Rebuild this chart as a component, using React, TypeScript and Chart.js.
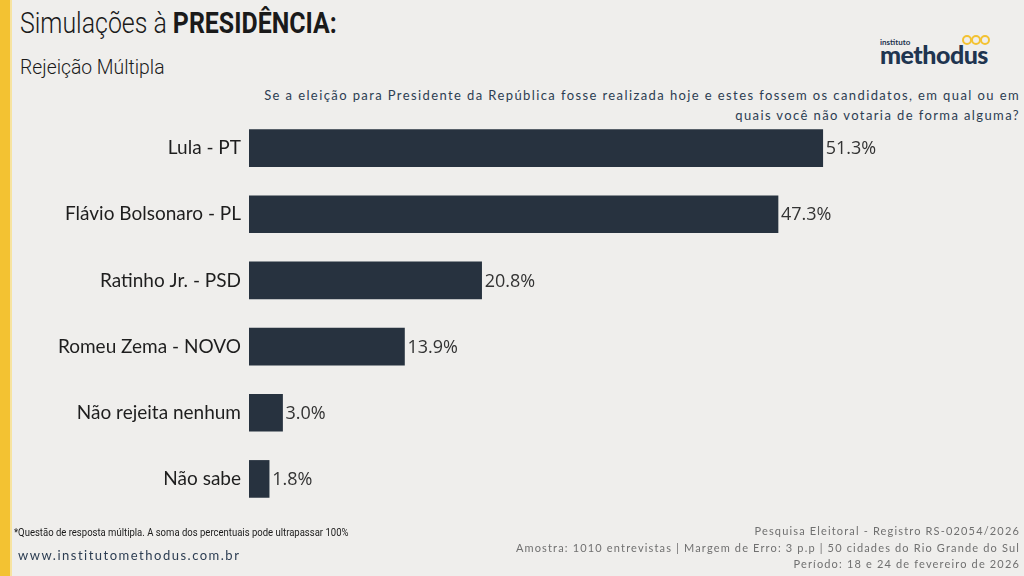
import React, { useEffect, useRef } from "react";
import { Chart, registerables } from "chart.js";

Chart.register(...registerables);

const categories = [
  "Lula - PT",
  "Flávio Bolsonaro - PL",
  "Ratinho Jr. - PSD",
  "Romeu Zema - NOVO",
  "Não rejeita nenhum",
  "Não sabe",
];
const values = [51.3, 47.3, 20.8, 13.9, 3.0, 1.8];

const BAR_COLOR = "#27323f";
const BG = "#efeeec";

const valueLabelPlugin = {
  id: "valueLabels",
  afterDatasetsDraw(chart: any) {
    const ctx = chart.ctx;
    const meta = chart.getDatasetMeta(0);
    ctx.save();
    ctx.font = "18px 'Open Sans'";
    ctx.fillStyle = "#333333";
    ctx.textAlign = "left";
    ctx.textBaseline = "middle";
    meta.data.forEach((bar: any, i: number) => {
      const v = values[i];
      ctx.fillText(v.toFixed(1) + "%", bar.x + 3, bar.y + 1);
    });
    ctx.restore();
  },
};

export default function App() {
  const canvasRef = useRef<HTMLCanvasElement | null>(null);

  useEffect(() => {
    if (!canvasRef.current) return;
    const chart = new Chart(canvasRef.current, {
      type: "bar",
      data: {
        labels: categories,
        datasets: [
          {
            data: values,
            backgroundColor: BAR_COLOR,
            barThickness: 37,
            borderWidth: 0,
          },
        ],
      },
      options: {
        indexAxis: "y",
        animation: false,
        responsive: false,
        maintainAspectRatio: false,
        layout: { padding: { top: 115, bottom: 64, left: 0, right: 10 } },
        plugins: {
          legend: { display: false },
          tooltip: { enabled: false },
        },
        scales: {
          x: {
            display: false,
            min: 0,
            max: 68.4,
          },
          y: {
            grid: { display: false, drawTicks: false },
            border: { display: false },
            afterFit(scale: any) {
              scale.width = 249;
            },
            ticks: {
              padding: 8,
              color: "#1e1e1e",
              font: { family: "Lato", size: 19 },
            },
          },
        },
      },
      plugins: [valueLabelPlugin],
    });
    return () => chart.destroy();
  }, []);

  const condensed = (extra: React.CSSProperties = {}): React.CSSProperties => ({
    position: "absolute",
    whiteSpace: "nowrap",
    transformOrigin: "left top",
    ...extra,
  });

  return (
    <div
      style={{
        position: "fixed",
        left: 0,
        top: 0,
        width: 1024,
        height: 576,
        background: BG,
        overflow: "hidden",
        fontFamily: "Lato",
      }}
    >
      <div style={{ position: "absolute", left: 0, top: 0, width: 10, height: 576, background: "#f3c232" }} />
      <div style={{ position: "absolute", left: 10, top: 0, width: 2, height: 576, background: "#f7e3a0" }} />

      <div
        style={condensed({
          left: 20,
          top: 5,
          fontFamily: "Roboto",
          fontWeight: 300,
          fontSize: 30,
          color: "#1a1a1a",
          transform: "scaleX(0.83)",
        })}
      >
        Simulações à <span style={{ fontWeight: 700 }}>PRESIDÊNCIA:</span>
      </div>
      <div
        style={condensed({
          left: 20,
          top: 55,
          fontFamily: "Roboto",
          fontWeight: 300,
          fontSize: 21,
          color: "#1a1a1a",
          transform: "scaleX(0.92)",
        })}
      >
        Rejeição Múltipla
      </div>

      <div style={{ position: "absolute", left: 880, top: 30, width: 110, height: 40 }}>
        <div style={{ position: "absolute", left: 0, top: 7, fontFamily: "Lato", fontWeight: 700, fontSize: 8, color: "#1f3550" }}>
          instituto
        </div>
        <div
          style={{
            position: "absolute",
            left: 0,
            top: 9,
            fontFamily: "Lato",
            fontWeight: 900,
            fontSize: 25,
            letterSpacing: -0.5,
            color: "#1f3550",
          }}
        >
          methodus
        </div>
        {[0, 1, 2].map((i) => (
          <div
            key={i}
            style={{
              position: "absolute",
              left: 82 + i * 9,
              top: 5,
              width: 6,
              height: 6,
              borderRadius: 5,
              border: "2px solid #f3c232",
            }}
          />
        ))}
      </div>

      <div
        style={{
          position: "absolute",
          right: 4,
          top: 85,
          textAlign: "right",
          fontFamily: "Lato",
          fontSize: 13,
          letterSpacing: 1.4,
          lineHeight: "20px",
          color: "#2c3d52",
          whiteSpace: "nowrap",
        }}
      >
        Se a eleição para Presidente da República fosse realizada hoje e estes fossem os candidatos, em qual ou em
        <br />
        quais você não votaria de forma alguma?
      </div>

      <canvas ref={canvasRef} width={1024} height={576} style={{ position: "absolute", left: 0, top: 0 }} />

      <div
        style={condensed({
          left: 14,
          top: 526,
          fontFamily: "Roboto",
          fontSize: 11,
          color: "#1a1a1a",
          transform: "scaleX(0.865)",
        })}
      >
        *Questão de resposta múltipla. A soma dos percentuais pode ultrapassar 100%
      </div>
      <div
        style={{
          position: "absolute",
          left: 18,
          top: 547,
          fontFamily: "Lato",
          fontSize: 13,
          letterSpacing: 1.5,
          color: "#2c3d52",
          whiteSpace: "nowrap",
        }}
      >
        www.institutomethodus.com.br
      </div>

      <div
        style={{
          position: "absolute",
          right: 4,
          top: 523,
          textAlign: "right",
          fontFamily: "Lato",
          fontSize: 11,
          letterSpacing: 1.16,
          lineHeight: "16.5px",
          color: "#707070",
          whiteSpace: "nowrap",
        }}
      >
        Pesquisa Eleitoral - Registro RS-02054/2026
        <br />
        Amostra: 1010 entrevistas | Margem de Erro: 3 p.p | 50 cidades do Rio Grande do Sul
        <br />
        Período: 18 e 24 de fevereiro de 2026
      </div>
    </div>
  );
}
